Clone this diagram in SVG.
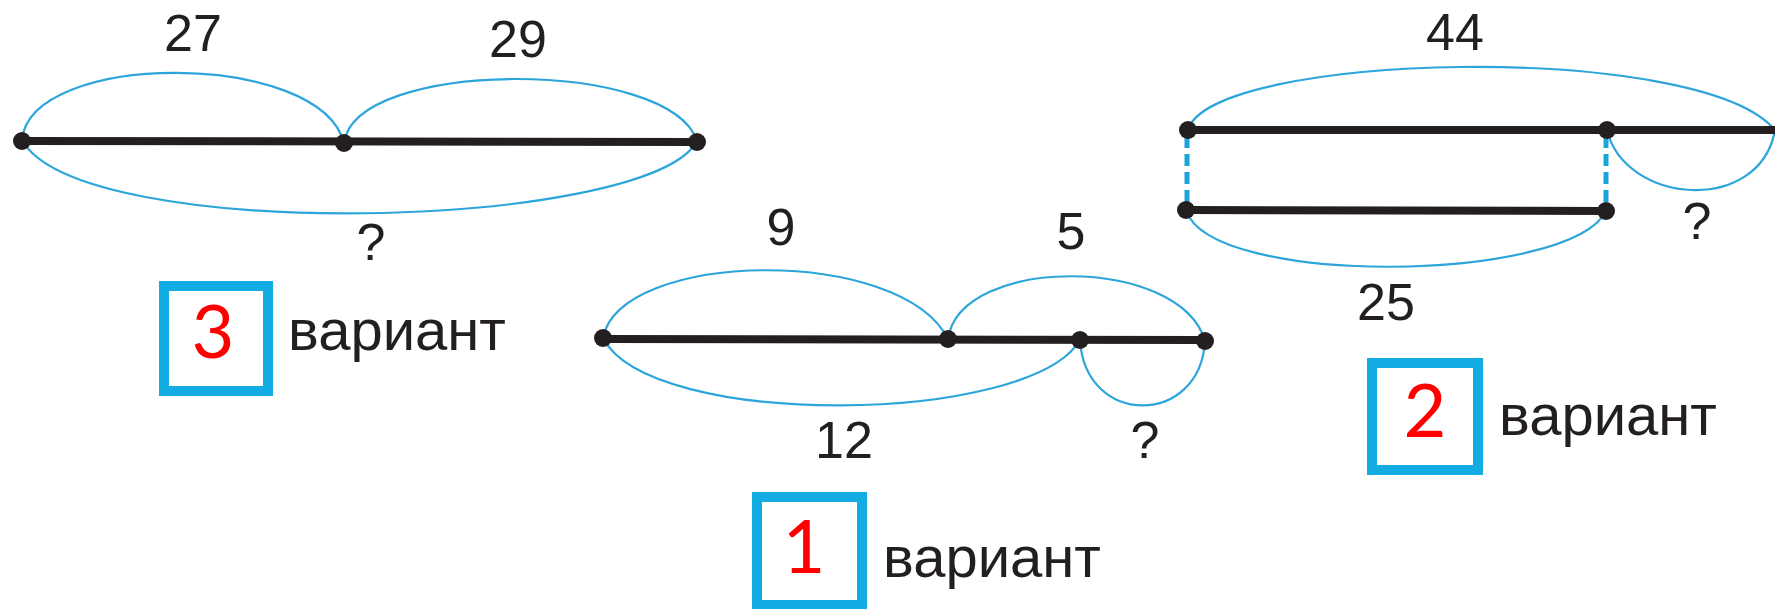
<svg xmlns="http://www.w3.org/2000/svg" width="1775" height="609" viewBox="0 0 1775 609">
<style>
.seg{stroke:#231F20;stroke-width:8;fill:none;stroke-linecap:butt}
.dot{fill:#231F20}
.arc{stroke:#2CA5DA;stroke-width:2.2;fill:none}
.dash{stroke:#1BA3DD;stroke-width:5;stroke-dasharray:12 6;fill:none}
.box{stroke:#12ACE3;stroke-width:10;fill:none}
.num{font-family:"Liberation Sans",Arial,sans-serif;font-size:52px;fill:#231F20;text-anchor:middle}
.lbl{font-family:"Liberation Sans",Arial,sans-serif;font-size:58px;fill:#231F20}
.red{font-family:Lato,"Liberation Sans",sans-serif;font-size:74px;fill:#FF0000;text-anchor:middle}
</style>
<rect width="1775" height="609" fill="#FFFFFF"/>
<g id="connectors">
  <!-- variant 3 -->
  <path class="arc" d="M22,140 C30,50 320,50 344,143"/>
  <path class="arc" d="M344,143 C355,58 670,58 697,141"/>
  <path class="arc" d="M22,140 C80,245 650,230 697,141"/>
  <!-- variant 1 -->
  <path class="arc" d="M603,338 C620,250 900,245 948,339"/>
  <path class="arc" d="M948,339 C960,255 1180,255 1205,341"/>
  <path class="arc" d="M603,338 C650,430 1030,425 1080,340"/>
  <path class="arc" d="M1080,340 C1085,427 1200,427 1205,341"/>
  <!-- variant 2 -->
  <path class="arc" d="M1188,130 C1210,52 1700,40 1775,130"/>
  <path class="arc" d="M1186,210 C1210,288 1570,283 1606,211"/>
  <path class="arc" d="M1607,130 C1625,205 1760,215 1775,130"/>
  <line class="dash" x1="1187" y1="136" x2="1187" y2="206"/>
  <line class="dash" x1="1606" y1="136" x2="1606" y2="206"/>
</g>
<g id="variant3">
  <line class="seg" x1="22" y1="141" x2="697" y2="142"/>
  <circle class="dot" cx="22" cy="141" r="9"/>
  <circle class="dot" cx="344" cy="143" r="9"/>
  <circle class="dot" cx="697" cy="142" r="9"/>
  <text class="num" x="193" y="51">27</text>
  <text class="num" x="518" y="57">29</text>
  <text class="num" x="371" y="260">?</text>
  <rect class="box" x="164" y="286" width="104" height="105"/>
  <text class="red" x="213" y="358">3</text>
  <text class="lbl" x="288" y="350">вариант</text>
</g>
<g id="variant1">
  <line class="seg" x1="603" y1="339" x2="1205" y2="340"/>
  <circle class="dot" cx="603" cy="338" r="9"/>
  <circle class="dot" cx="948" cy="339" r="9"/>
  <circle class="dot" cx="1080" cy="340" r="9"/>
  <circle class="dot" cx="1205" cy="341" r="9"/>
  <text class="num" x="781" y="245">9</text>
  <text class="num" x="1071" y="249">5</text>
  <text class="num" x="844" y="458">12</text>
  <text class="num" x="1145" y="458">?</text>
  <rect class="box" x="757" y="497" width="105" height="108"/>
  <text class="red" x="804" y="573">1</text>
  <text class="lbl" x="883" y="577">вариант</text>
</g>
<g id="variant2">
  <line class="seg" x1="1188" y1="130" x2="1775" y2="130"/>
  <line class="seg" x1="1186" y1="210" x2="1606" y2="211"/>
  <circle class="dot" cx="1188" cy="130" r="9"/>
  <circle class="dot" cx="1607" cy="130" r="9"/>
  <circle class="dot" cx="1186" cy="210" r="9"/>
  <circle class="dot" cx="1606" cy="211" r="9"/>
  <text class="num" x="1455" y="50">44</text>
  <text class="num" x="1386" y="320">25</text>
  <text class="num" x="1697" y="239">?</text>
  <rect class="box" x="1372" y="363" width="106" height="107"/>
  <text class="red" x="1425" y="437">2</text>
  <text class="lbl" x="1499" y="435">вариант</text>
</g>
</svg>
